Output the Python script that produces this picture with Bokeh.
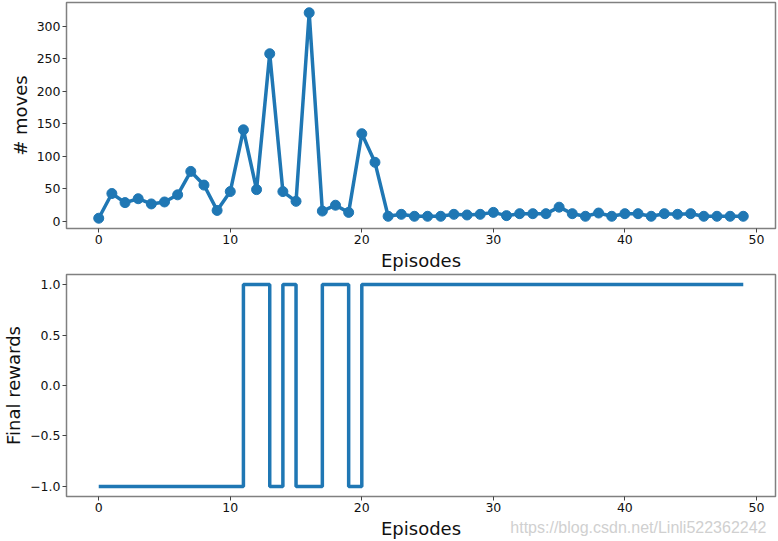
from bokeh.plotting import figure
from bokeh.layouts import column
from bokeh.models import Range1d, FixedTicker, Title
from bokeh.embed import file_html
from bokeh.resources import INLINE

episodes = list(range(50))
moves = [5, 43, 29, 35, 27, 30, 41, 77, 56, 17,
         46, 141, 49, 258, 46, 31, 321, 16, 25, 14,
         135, 91, 8, 11, 8, 8, 8, 11, 10, 11,
         14, 9, 12, 12, 12, 22, 12, 8, 13, 8,
         12, 12, 8, 12, 11, 12, 8, 8, 8, 8]
rewards = [-1] * 11 + [1, 1, -1, 1, -1, -1, 1, 1, -1] + [1] * 30
moves_ticks = [0, 50, 100, 150, 200, 250, 300]
reward_ticks = [-1.0, -0.5, 0.0, 0.5, 1.0]
reward_tick_labels = ["\u22121.0", "\u22120.5", "0.0", "0.5", "1.0"]
x_ticks = [0, 10, 20, 30, 40, 50]
x_label = "Episodes"
watermark = "https://blog.csdn.net/Linli522362242"

BLUE = "#1f77b4"
FONT = "DejaVu Sans"


def style_axis(ax):
    ax.axis_line_color = None
    ax.major_tick_in = 0
    ax.major_tick_out = 4
    ax.major_tick_line_color = "#444444"
    ax.minor_tick_line_color = None
    ax.major_label_text_font = FONT
    ax.major_label_text_font_size = "12.5px"
    ax.major_label_text_color = "#111111"
    ax.major_label_standoff = 2
    ax.axis_label_text_font = FONT
    ax.axis_label_text_font_size = "18px"
    ax.axis_label_text_font_style = "normal"
    ax.axis_label_text_color = "#111111"
    ax.axis_label_standoff = 3


def style(p, ylabel):
    p.grid.visible = False
    p.outline_line_color = "#808080"
    p.outline_line_width = 1.5
    p.background_fill_color = "white"
    p.border_fill_color = "white"
    style_axis(p.xaxis[0])
    style_axis(p.yaxis[0])
    p.xaxis[0].axis_label = x_label
    p.yaxis[0].axis_label = ylabel
    p.xaxis[0].ticker = FixedTicker(ticks=x_ticks)


W = 778
p1 = figure(width=W, height=273, output_backend="svg", toolbar_location=None,
            x_range=Range1d(-2.45, 51.45), y_range=Range1d(-10.8, 336.8),
            min_border_left=64, min_border_right=3, min_border_top=2,
            min_border_bottom=45)
style(p1, "# moves")
p1.yaxis[0].ticker = FixedTicker(ticks=moves_ticks)
p1.line(episodes, moves, line_color=BLUE, line_width=3.5)
p1.scatter(episodes, moves, size=10, fill_color=BLUE, line_color=BLUE)

p2 = figure(width=W, height=268, output_backend="svg", toolbar_location=None,
            x_range=Range1d(-2.45, 51.45), y_range=Range1d(-1.1, 1.1),
            min_border_left=64, min_border_right=3, min_border_top=1,
            min_border_bottom=43)
style(p2, "Final rewards")
p2.yaxis[0].ticker = FixedTicker(ticks=reward_ticks)
p2.yaxis[0].major_label_overrides = {t: s for t, s in zip(reward_ticks, reward_tick_labels)}
p2.step(episodes, rewards, mode="after", line_color=BLUE, line_width=3.5)

wm = Title(text=watermark, align="right", vertical_align="top",
           text_font="Liberation Sans", text_font_size="16px",
           text_font_style="normal", text_color="#d0d0d0",
           standoff=-46, offset=9)
p2.add_layout(wm, "below")

layout = column(p1, p2, spacing=0)
open("out.html", "w").write(file_html(layout, INLINE))
